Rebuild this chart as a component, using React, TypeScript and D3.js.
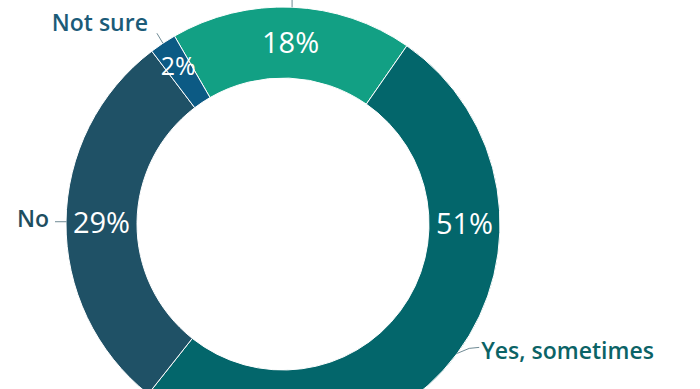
import React from "react";
import * as d3 from "d3";

const categories = ["Yes, always", "Yes, sometimes", "No", "Not sure"];
const values = [18, 51, 29, 2];
const valueLabels = ["18%", "51%", "29%", "2%"];

const sliceColors = ["#12a084", "#03666b", "#1f5166", "#0c5a84"];
const textColors = ["#0f7f6b", "#0b6366", "#1e4e5f", "#1b5b78"];

const W = 700;
const H = 389;
const cx = 283;
const cy = 224;
const rOuter = 217;
const rInner = 146;
const startDeg = -30;

export default function App() {
  const pie = d3
    .pie<number>()
    .sort(null)
    .value((d) => d)
    .startAngle((startDeg * Math.PI) / 180)
    .endAngle(((startDeg + 360) * Math.PI) / 180);
  const arcs = pie(values);
  const arcGen = d3.arc<d3.PieArcDatum<number>>().innerRadius(rInner).outerRadius(rOuter);

  const rMid = (rInner + rOuter) / 2;
  const polar = (a: number, r: number): [number, number] => [Math.sin(a) * r, -Math.cos(a) * r];

  return (
    <svg
      width={W}
      height={H}
      style={{ position: "absolute", left: 0, top: 0, background: "#fff" }}
      fontFamily="'Open Sans', sans-serif"
    >
      <g transform={`translate(${cx},${cy})`}>
        {arcs.map((a, i) => (
          <path key={i} d={arcGen(a) || ""} fill={sliceColors[i]} stroke="#ffffff" strokeWidth={1} />
        ))}
        {arcs.map((a, i) => {
          const mid = (a.startAngle + a.endAngle) / 2;
          // the large slice's value sits at the right edge of the ring
          const la = i === 1 ? Math.PI / 2 : mid;
          const lr = i === 3 ? rMid + 8 : rMid;
          const [x, y] = polar(la, lr);
          return (
            <text
              key={"v" + i}
              x={x}
              y={y}
              dy="0.36em"
              textAnchor="middle"
              fill="#ffffff"
              fontSize={i === 3 ? 25 : 29}
              fontWeight={500}
            >
              {valueLabels[i]}
            </text>
          );
        })}
        {arcs.map((a, i) => {
          const mid = (a.startAngle + a.endAngle) / 2;
          const [ex, ey] = polar(mid, rOuter);
          let pts: [number, number][] = [];
          let tx = 0;
          let ty = 0;
          let anchor: "start" | "end" | "middle" = "start";
          if (i === 0) {
            pts = [[ex, ey], [ex, ey - 14]];
            tx = ex;
            ty = ey - 40;
            anchor = "middle";
          } else if (i === 1) {
            pts = [[ex, ey], [ex + 12, ey - 5], [ex + 22, ey - 6]];
            tx = ex + 24;
            ty = ey - 3;
            anchor = "start";
          } else if (i === 2) {
            pts = [[ex, ey], [ex - 11, ey]];
            tx = ex - 17;
            ty = ey - 3;
            anchor = "end";
          } else {
            pts = [[ex, ey], [ex - 6, ey - 10]];
            tx = ex - 15;
            ty = ey - 21;
            anchor = "end";
          }
          return (
            <g key={"l" + i}>
              <polyline
                points={pts.map((p) => p.join(",")).join(" ")}
                fill="none"
                stroke="#6f8a94"
                strokeWidth={1}
              />
              <text
                x={tx}
                y={ty}
                dy="0.36em"
                textAnchor={anchor}
                fill={textColors[i]}
                fontSize={23}
                fontWeight={600}
              >
                {categories[i]}
              </text>
            </g>
          );
        })}
      </g>
    </svg>
  );
}
